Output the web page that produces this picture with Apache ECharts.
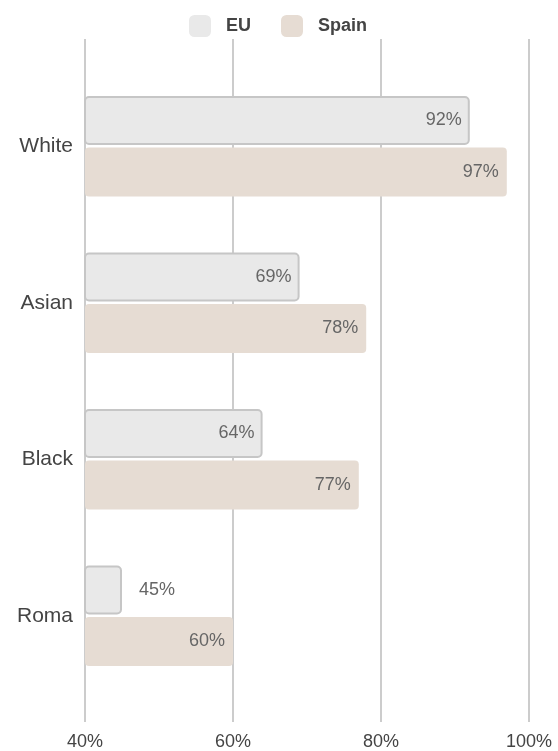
<!DOCTYPE html>
<html>
<head>
<meta charset="utf-8">
<script src="https://cdn.jsdelivr.net/npm/echarts@6/dist/echarts.min.js"></script>
<style>html,body{margin:0;padding:0;background:#fff}#c{width:558px;height:751px}</style>
</head>
<body>
<div id="c"></div>
<script>
var categories = ['White', 'Asian', 'Black', 'Roma'];
var euValues = [92, 69, 64, 45];
var spainValues = [97, 78, 77, 60];
var xTicksMin = 40, xTicksMax = 100, xTickStep = 20;

var FONT = '"Liberation Sans", Arial, sans-serif';
var chart = echarts.init(document.getElementById('c'), null, {renderer: 'canvas'});

function labelFor(vals) {
  return vals.map(function (v) {
    var short = (v - xTicksMin) < 10;
    return {
      value: v,
      label: {
        show: true,
        position: short ? 'right' : 'insideRight',
        distance: short ? 17 : 8,
        formatter: '{c}%',
        color: '#666',
        fontSize: 18,
        fontFamily: FONT
      }
    };
  });
}

chart.setOption({
  animation: false,
  legend: {
    left: 184, top: 10,
    itemWidth: 22, itemHeight: 22, itemGap: 30,
    icon: 'roundRect',
    itemStyle: {borderWidth: 0},
    textStyle: {color: '#444', fontSize: 18, fontWeight: 'bold', fontFamily: FONT, padding: [0, 0, 0, 10]},
    data: ['EU', 'Spain']
  },
  grid: [
    {left: 85, right: 29, top: 68, bottom: 57},
    {left: 85, right: 29, top: 39, bottom: 29}
  ],
  xAxis: [
    {gridIndex: 0, type: 'value', min: xTicksMin, max: xTicksMax, interval: xTickStep, show: false},
    {gridIndex: 1, type: 'value', min: xTicksMin, max: xTicksMax, interval: xTickStep,
     axisLine: {show: false}, axisTick: {show: false},
     axisLabel: {formatter: '{value}%', color: '#444', fontSize: 18, fontFamily: FONT, margin: 11},
     splitLine: {show: true, showMinLine: true, showMaxLine: true, lineStyle: {color: '#cccccc', width: 2}}}
  ],
  yAxis: [
    {gridIndex: 0, type: 'category', data: categories, inverse: true,
     axisLine: {show: false}, axisTick: {show: false},
     axisLabel: {color: '#444', fontSize: 21, fontFamily: FONT, margin: 12}},
    {gridIndex: 1, type: 'category', data: categories, show: false}
  ],
  series: [
    {name: 'EU', type: 'bar', xAxisIndex: 0, yAxisIndex: 0, z: 3,
     barWidth: 49, barGap: '5%',
     itemStyle: {color: '#e9e9e9', borderColor: '#c6c6c6', borderWidth: 2, borderRadius: 4},
     data: labelFor(euValues)},
    {name: 'Spain', type: 'bar', xAxisIndex: 0, yAxisIndex: 0, z: 3,
     barWidth: 49, barGap: '5%',
     itemStyle: {color: '#e6dcd3', borderRadius: 4},
     data: labelFor(spainValues)}
  ]
});
</script>
</body>
</html>
